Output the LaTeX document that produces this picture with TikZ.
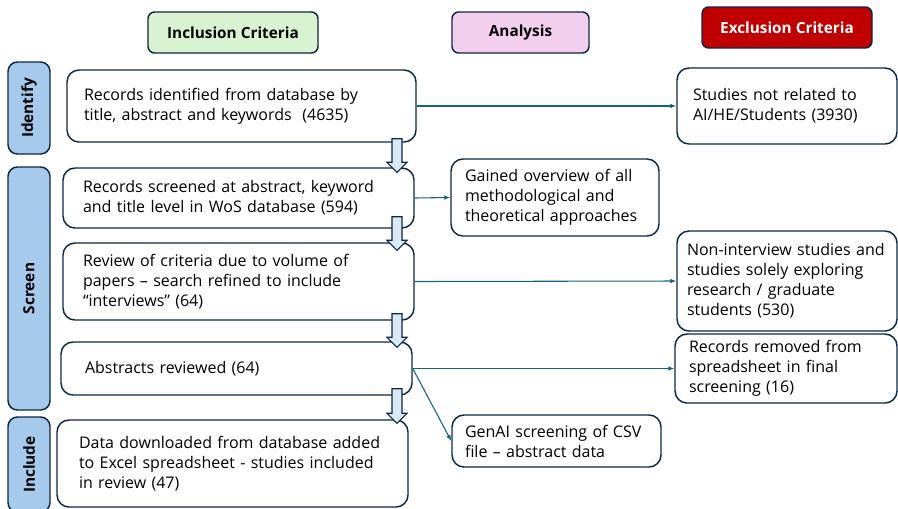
\documentclass[tikz,border=0pt]{standalone}
\usepackage{fontspec}
\setmainfont{Open Sans}
\usepackage{tikz}
\usetikzlibrary{arrows.meta,calc}
\definecolor{edge}{HTML}{0E2841}
\definecolor{link}{HTML}{156082}
\definecolor{stagefill}{HTML}{A6CAEC}
\definecolor{inclfill}{HTML}{D9F2D0}
\definecolor{anafill}{HTML}{F2CEEF}
\definecolor{exclfill}{HTML}{C00000}
\definecolor{downfill}{HTML}{DAE9F8}

\begin{document}
\begin{tikzpicture}[
    x=0.75pt, y=-0.75pt,
    flowbox/.style={draw=edge, line width=1.1pt, fill=white, rounded corners=9pt, align=left, inner xsep=0pt, inner ysep=0pt, font=\fontsize{12}{15}\selectfont},
    header/.style={draw=edge, line width=1.1pt, rounded corners=5pt, align=center, font=\fontsize{11.5}{14}\selectfont\bfseries, minimum width=127.5pt, minimum height=30.75pt},
    stage/.style={draw=edge, line width=1.1pt, fill=stagefill, rounded corners=7pt, rotate=90, minimum height=31.5pt, font=\fontsize{11.5}{14}\selectfont\bfseries},
    downarrow/.style={draw=edge, line width=0.8pt, fill=downfill, line join=miter},
    linkarrow/.style={-{Latex[length=4.5pt,width=3.5pt]}, link, line width=0.8pt}
]
\useasboundingbox (0,0) rectangle (898,508);

% Column headers
\node[header, fill=inclfill] (hincl) at (233,32.5) {Inclusion Criteria};
\node[header, fill=anafill, minimum width=102.75pt] (hana) at (520.5,32.5) {Analysis};
\node[header, fill=exclfill, text=white] (hexcl) at (787,27.5) {Exclusion Criteria};

% Stage labels on the left
\node[stage, minimum width=69pt] (sident) at (29,108) {Identify};
\node[stage, minimum width=182.25pt] (sscreen) at (29,288.5) {Screen};
\node[stage, minimum width=71.25pt] (sincl) at (29,464.5) {Include};

% Inclusion column
\node[flowbox, minimum width=261.75pt, minimum height=54pt, text width=236.25pt] (b1) at (241.5,106)
    {Records identified from database by\\title, abstract and keywords~ (4635)};
\node[flowbox, minimum width=263.25pt, minimum height=45pt, text width=233.25pt] (b2) at (238.5,198)
    {Records screened at abstract, keyword\\and title level in WoS database (594)};
\node[flowbox, minimum width=263.25pt, minimum height=57.75pt, text width=233.25pt] (b3) at (238.5,281.5)
    {Review of criteria due to volume of\\papers – search refined to include\\“interviews” (64)};
\node[flowbox, minimum width=263.25pt, minimum height=39.75pt, text width=227.25pt] (b4) at (236.5,368.5)
    {Abstracts reviewed (64)};
\node[flowbox, minimum width=263.25pt, minimum height=65.25pt, text width=230.25pt] (b5) at (232.5,463.5)
    {Data downloaded from database added\\to Excel spreadsheet - studies included\\in review (47)};

% Analysis column
\node[flowbox, minimum width=156pt, minimum height=57.75pt, text width=135pt] (a1) at (555,197.5)
    {Gained overview of all\\methodological and\\theoretical approaches};
\node[flowbox, minimum width=156.75pt, minimum height=39pt, text width=137.25pt] (a2) at (556.5,441)
    {GenAI screening of CSV\\file – abstract data};

% Exclusion column
\node[flowbox, minimum width=165pt, minimum height=57pt, text width=141pt] (x1) at (787,106)
    {Studies not related to\\AI/HE/Students (3930)};
\node[flowbox, minimum width=165pt, minimum height=75pt, text width=150pt] (x2) at (787,281)
    {Non-interview studies and\\studies solely exploring\\research / graduate\\students (530)};
\node[flowbox, minimum width=166.5pt, minimum height=51.75pt, text width=145.5pt] (x3) at (786,368.5)
    {Records removed from\\spreadsheet in final\\screening (16)};

% Thin connectors to the side columns
\draw[linkarrow] (b1.east) -- (x1.west);
\draw[linkarrow] (b2.east) -- (a1.west);
\draw[linkarrow] (b3.east) -- (x2.west);
\draw[linkarrow] (b4.east) -- (x3.west);
\draw[linkarrow] (b4.east) -- (a2.west);

% Block arrows down the inclusion column
\coordinate (col) at (397,0);
\foreach \a/\b/\t/\p in {b1/b2/4/5, b2/b3/12/8, b3/b4/7/6, b4/b5/7/4} {
    \coordinate (top) at ($(col |- \a.south)+(0,-\t)$);
    \coordinate (tip) at ($(col |- \b.north)+(0,\p)$);
    \draw[downarrow] ($(top)+(-5,0)$) -- ($(top)+(5,0)$) -- ($(tip)+(5,-10)$) -- ($(tip)+(10,-10)$)
        -- (tip) -- ($(tip)+(-10,-10)$) -- ($(tip)+(-5,-10)$) -- cycle;
}

\end{tikzpicture}
\end{document}
